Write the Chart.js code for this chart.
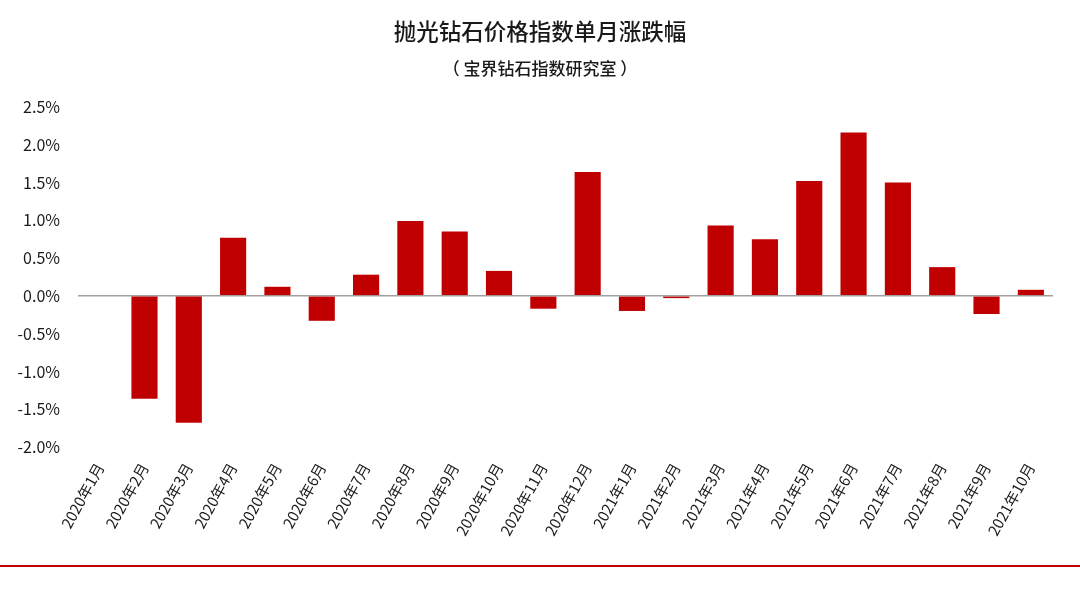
<!DOCTYPE html>
<html>
<head>
<meta charset="utf-8">
<script src="https://cdn.jsdelivr.net/npm/chart.js@4.4.1/dist/chart.umd.min.js"></script>
<style>
  html, body { margin: 0; padding: 0; background: #fff; }
  #wrap { width: 1080px; height: 594px; position: relative; }
</style>
</head>
<body>
<div id="wrap"><canvas id="diamondChart"></canvas></div>
<script>
// 月份
const months = [
  '2020年1月', '2020年2月', '2020年3月', '2020年4月', '2020年5月', '2020年6月',
  '2020年7月', '2020年8月', '2020年9月', '2020年10月', '2020年11月', '2020年12月',
  '2021年1月', '2021年2月', '2021年3月', '2021年4月', '2021年5月', '2021年6月',
  '2021年7月', '2021年8月', '2021年9月', '2021年10月'
];

// 单月涨跌幅 (%)
const monthlyChange = [
  0.0, -1.36, -1.68, 0.77, 0.12, -0.33,
  0.28, 0.99, 0.85, 0.33, -0.17, 1.64,
  -0.20, -0.03, 0.93, 0.75, 1.52, 2.16,
  1.50, 0.38, -0.24, 0.08
];

const yMin = -2.0;
const yMax = 2.5;
const yStep = 0.5;

const fontFamily = '"Microsoft YaHei", "Noto Sans CJK SC", sans-serif';
const red = '#c00000';

// bottom red rule
const bottomRule = {
  id: 'bottomRule',
  afterDraw(chart) {
    const ctx = chart.ctx;
    ctx.save();
    ctx.strokeStyle = red;
    ctx.lineWidth = 2;
    ctx.beginPath();
    ctx.moveTo(0, 566);
    ctx.lineTo(chart.width, 566);
    ctx.stroke();
    ctx.restore();
  }
};

new Chart(document.getElementById('diamondChart'), {
  type: 'bar',
  data: {
    labels: months,
    datasets: [{
      data: monthlyChange,
      backgroundColor: red,
      borderWidth: 0,
      categoryPercentage: 1.0,
      barPercentage: 0.59
    }]
  },
  options: {
    responsive: true,
    maintainAspectRatio: false,
    animation: false,
    layout: { padding: { left: 0, right: 0, top: 0, bottom: 47 } },
    plugins: {
      legend: { display: false },
      tooltip: { enabled: false },
      title: {
        display: true,
        text: '抛光钻石价格指数单月涨跌幅',
        color: '#1a1a1a',
        font: { family: fontFamily, size: 22.5, weight: 500 },
        padding: { top: 18, bottom: 11 }
      },
      subtitle: {
        display: true,
        text: '（ 宝界钻石指数研究室 ）',
        color: '#1a1a1a',
        font: { family: fontFamily, size: 17, weight: 500 },
        padding: { top: 2, bottom: 28.5 }
      }
    },
    scales: {
      x: {
        grid: { display: false, drawTicks: false },
        border: { display: false },
        ticks: {
          color: '#1a1a1a',
          font: { family: fontFamily, size: 15 },
          minRotation: 61,
          maxRotation: 61,
          autoSkip: false,
          padding: 13
        },
        afterFit: (scale) => { scale.height = 100; }
      },
      y: {
        min: yMin,
        max: yMax,
        border: { display: false },
        grid: {
          drawTicks: false,
          color: (ctx) => ctx.tick && ctx.tick.value === 0 ? '#a0a0a0' : 'rgba(0,0,0,0)',
          lineWidth: 1.5
        },
        ticks: {
          stepSize: yStep,
          color: '#1a1a1a',
          font: { family: fontFamily, size: 16 },
          padding: 18,
          callback: (v) => v.toFixed(1) + '%'
        },
        afterFit: (scale) => { scale.width = 78; }
      },
      // empty right margin axis, keeps the plot off the right edge
      yRight: {
        position: 'right',
        grid: { display: false, drawTicks: false },
        border: { display: false },
        ticks: { display: false },
        afterFit: (scale) => { scale.width = 27; }
      }
    }
  },
  plugins: [bottomRule]
});
</script>
</body>
</html>
